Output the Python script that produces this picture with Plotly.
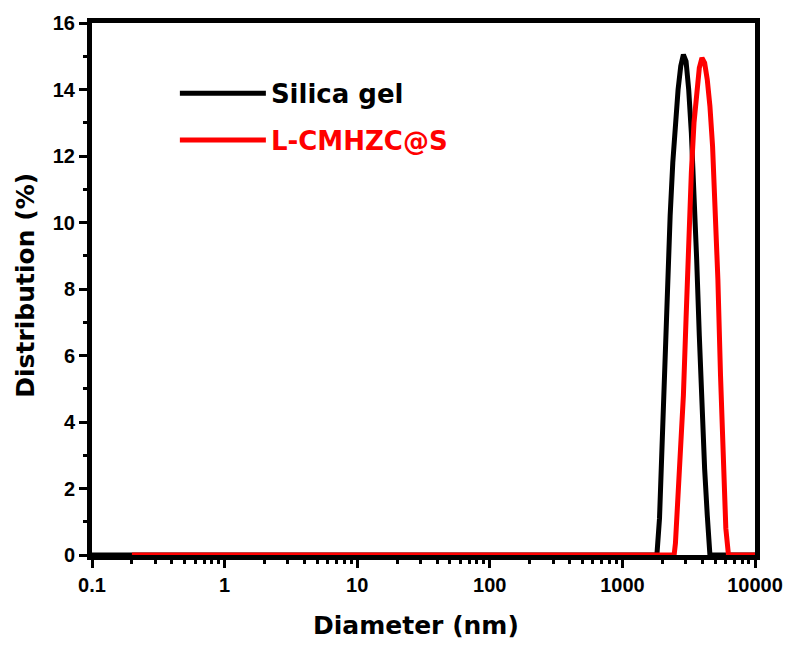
import plotly.graph_objects as go

# ---- data ----
silica_d = [0.1, 1820, 1905, 1995, 2089, 2188, 2291, 2399, 2512, 2630, 2754, 2884,
            3020, 3162, 3311, 3467, 3631, 3802, 3981, 4169, 4365, 4571, 10000]
silica_v = [0, 0, 1.1, 3.6, 6.1, 8.4, 10.2, 11.8, 13.0, 14.0, 14.7, 15.05,
            14.85, 14.0, 12.7, 11.0, 8.9, 6.6, 4.4, 2.6, 1.2, 0, 0]

lcm_d = [0.2, 2455, 2512, 2630, 2754, 2884, 3020, 3162, 3311, 3467, 3631, 3802, 3981,
         4169, 4365, 4571, 4786, 5012, 5248, 5495, 5754, 6026, 6310, 10000]
lcm_v = [0, 0, 0.35, 1.8, 3.2, 4.8, 7.1, 9.5, 11.5, 13.0, 14.0, 14.65, 14.95,
         14.8, 14.3, 13.5, 12.3, 10.6, 8.3, 5.4, 2.9, 0.8, 0, 0]

x_tickvals = [0.1, 1, 10, 100, 1000, 10000]
x_ticktext = ["0.1", "1", "10", "100", "1000", "10000"]
y_tickvals = [0, 2, 4, 6, 8, 10, 12, 14, 16]

x_minor = [m * 10 ** e for e in range(-1, 4) for m in range(2, 10)]

TICKFONT = dict(family="Liberation Sans, Arial", size=20, color="black", weight="bold")
BOLD = "DejaVu Sans, Arial Black"

fig = go.Figure()
fig.add_trace(go.Scatter(x=silica_d, y=silica_v, mode="lines", name="Silica gel",
                         legendgroup="a",
                         line=dict(color="#000000", width=5)))
fig.add_trace(go.Scatter(x=lcm_d, y=lcm_v, mode="lines",
                         name="<span style='color:#ff0000'>L-CMHZC@S</span>",
                         legendgroup="b",
                         line=dict(color="#ff0000", width=5)))

axis_common = dict(showline=True, linecolor="black", linewidth=5, mirror=True,
                   ticks="outside", tickcolor="black", tickwidth=3, ticklen=8,
                   showgrid=False, zeroline=False, tickfont=TICKFONT,
                   layer="below traces")

fig.update_xaxes(type="log", range=[-1, 4], tickmode="array",
                 tickvals=x_tickvals, ticktext=x_ticktext,
                 minor=dict(tickmode="array", tickvals=x_minor, ticks="outside",
                            ticklen=4, tickwidth=3, tickcolor="black"),
                 **axis_common)
fig.update_yaxes(range=[0, 16], tickmode="array", tickvals=y_tickvals,
                 minor=dict(dtick=1, ticks="outside", ticklen=4, tickwidth=3,
                            tickcolor="black"),
                 **axis_common)

fig.update_layout(
    width=795, height=649,
    margin=dict(l=92, r=38, t=18, b=94),
    paper_bgcolor="white", plot_bgcolor="white",
    showlegend=True,
    legend=dict(x=0.125, y=0.912, xanchor="left", yanchor="top",
                bgcolor="rgba(0,0,0,0)", borderwidth=0,
                font=dict(family=BOLD, size=26, color="black", weight="bold"),
                itemwidth=86, tracegroupgap=10, traceorder="grouped"),
    annotations=[
        dict(text="<b>Diameter (nm)</b>", xref="paper", yref="paper",
             x=0.488, y=-0.132, xanchor="center", yanchor="middle",
             showarrow=False, font=dict(family=BOLD, size=25, color="black")),
        dict(text="<b>Distribution (%)</b>", xref="paper", yref="paper",
             x=-0.1008, y=0.5065, xanchor="center", yanchor="middle",
             textangle=-90, showarrow=False,
             font=dict(family=BOLD, size=25, color="black")),
    ],
)

fig.write_html("out.html")
